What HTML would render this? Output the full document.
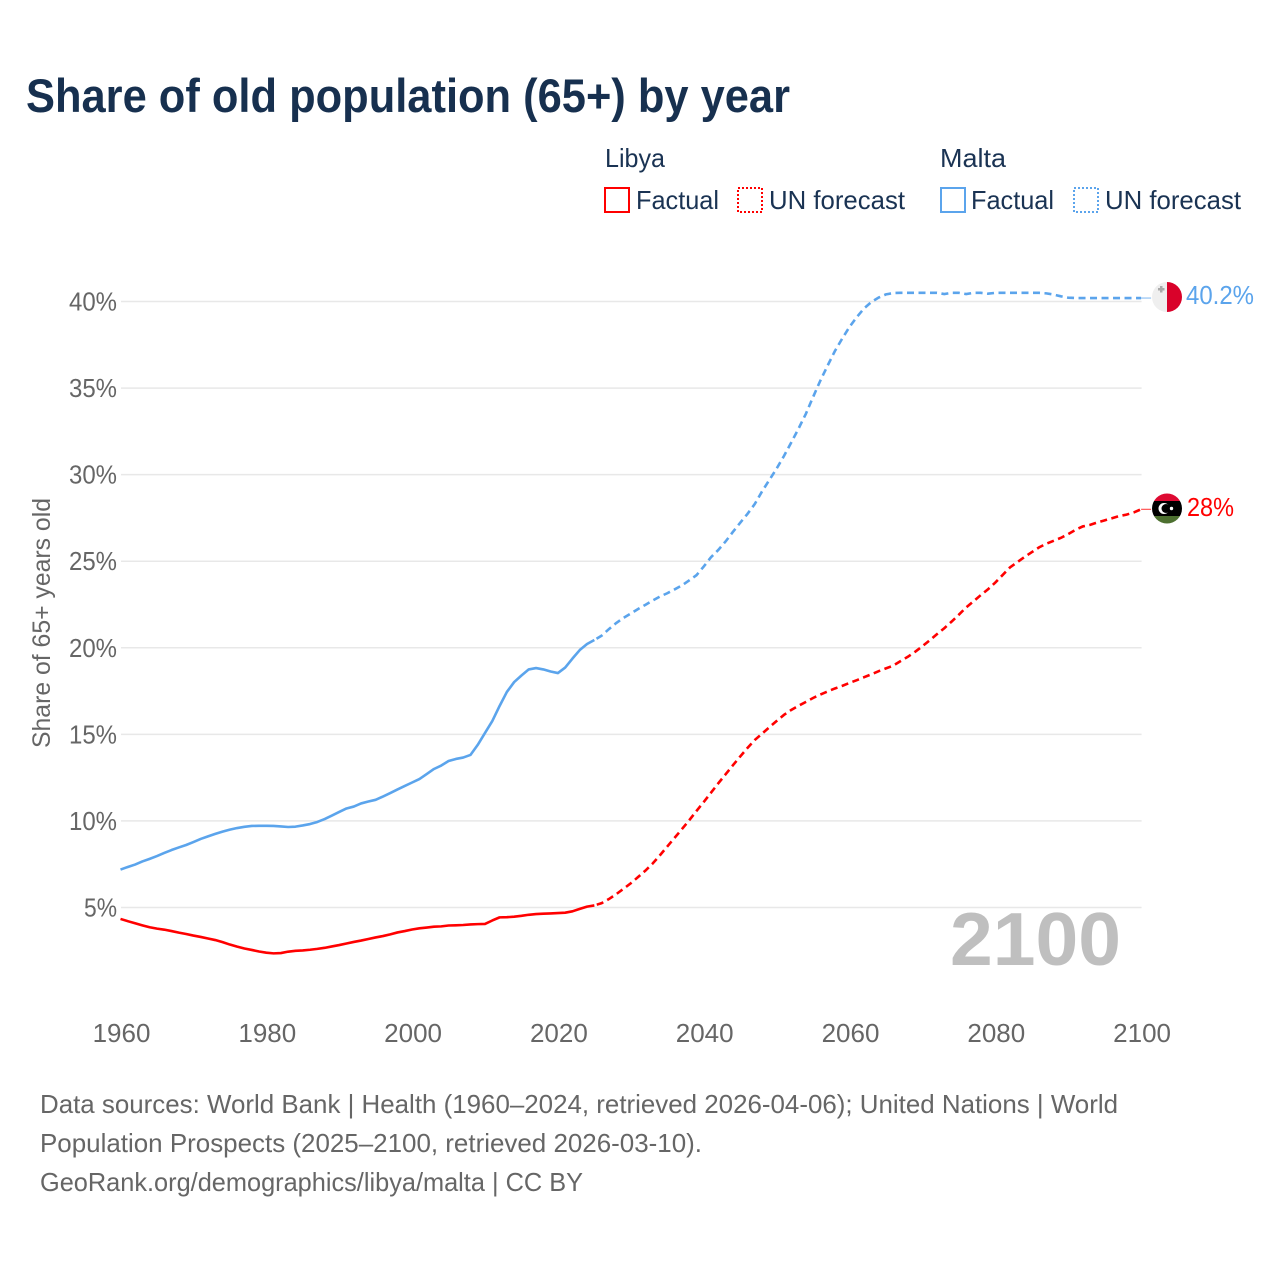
<!DOCTYPE html>
<html lang="en">
<head>
<meta charset="utf-8">
<title>Share of old population (65+) by year</title>
<style>
html,body{margin:0;padding:0;background:#fff;}
svg{display:block;font-family:"Liberation Sans",sans-serif;}
.legend-text{font-size:26px;fill:#1a3353;}
.source{font-size:26px;fill:#666;}
</style>
</head>
<body>
<svg id="chart" xmlns="http://www.w3.org/2000/svg" width="1280" height="1280" viewBox="0 0 1280 1280">
  <defs>
    <clipPath id="clip-malta"><circle cx="1167" cy="297" r="15"/></clipPath>
    <clipPath id="clip-libya"><circle cx="1167" cy="508.5" r="15"/></clipPath>
  </defs>
  <rect x="0" y="0" width="1280" height="1280" fill="#fff"/>
  <text x="26" y="112" font-size="47" font-weight="700" fill="#17304f" textLength="764" lengthAdjust="spacingAndGlyphs">Share of old population (65+) by year</text>

  <g>
    <text class="legend-text" x="605" y="167" textLength="60" lengthAdjust="spacingAndGlyphs">Libya</text>
    <rect x="605" y="188" width="24" height="24" fill="none" stroke="#ff0000" stroke-width="2"/>
    <text class="legend-text" x="636" y="209" textLength="83" lengthAdjust="spacingAndGlyphs">Factual</text>
    <rect x="738" y="188" width="24" height="24" fill="none" stroke="#ff0000" stroke-width="2" stroke-dasharray="2 2"/>
    <text class="legend-text" x="769" y="209" textLength="136" lengthAdjust="spacingAndGlyphs">UN forecast</text>

    <text class="legend-text" x="940" y="167" textLength="66" lengthAdjust="spacingAndGlyphs">Malta</text>
    <rect x="941" y="188" width="24" height="24" fill="none" stroke="#5ba4ec" stroke-width="2"/>
    <text class="legend-text" x="971" y="209" textLength="83" lengthAdjust="spacingAndGlyphs">Factual</text>
    <rect x="1074" y="188" width="24" height="24" fill="none" stroke="#5ba4ec" stroke-width="2" stroke-dasharray="2 2"/>
    <text class="legend-text" x="1105" y="209" textLength="136" lengthAdjust="spacingAndGlyphs">UN forecast</text>
  </g>

  <g id="grid"></g>
  <g id="y-ticks"></g>
  <g id="x-ticks"></g>
  <text transform="translate(50,623) rotate(-90)" text-anchor="middle" font-size="25" fill="#666" textLength="250" lengthAdjust="spacingAndGlyphs">Share of 65+ years old</text>

  <text x="950" y="965" font-size="75" font-weight="700" fill="#bfbfbf" textLength="171" lengthAdjust="spacingAndGlyphs">2100</text>

  <g id="series"></g>

  <g clip-path="url(#clip-malta)">
    <rect x="1152" y="282" width="15" height="30" fill="#efefef"/>
    <rect x="1167" y="282" width="15" height="30" fill="#d9022a"/>
    <rect x="1160" y="286" width="2.500" height="6.500" fill="#a9a9a9"/>
    <rect x="1158" y="288" width="6.500" height="2.500" fill="#a9a9a9"/>
  </g>
  <g clip-path="url(#clip-libya)">
    <rect x="1152" y="493" width="30" height="8" fill="#de0a32"/>
    <rect x="1152" y="501" width="30" height="15" fill="#000"/>
    <rect x="1152" y="516" width="30" height="8" fill="#4d7030"/>
    <circle cx="1164" cy="508.500" r="5.500" fill="#fff"/>
    <circle cx="1166" cy="508.500" r="4.500" fill="#000"/>
    <circle cx="1171.500" cy="508.500" r="1.700" fill="#fff"/>
  </g>

  <text id="label-malta" x="1186" y="304" font-size="26" fill="#5ba4ec" textLength="68" lengthAdjust="spacingAndGlyphs">40.2%</text>
  <text id="label-libya" x="1187" y="516" font-size="26" fill="#ff0000" textLength="47" lengthAdjust="spacingAndGlyphs">28%</text>

  <g>
    <text class="source" x="40" y="1113" textLength="1078" lengthAdjust="spacingAndGlyphs">Data sources: World Bank | Health (1960–2024, retrieved 2026-04-06); United Nations | World</text>
    <text class="source" x="40" y="1152" textLength="662" lengthAdjust="spacingAndGlyphs">Population Prospects (2025–2100, retrieved 2026-03-10).</text>
    <text class="source" x="40" y="1191" textLength="543" lengthAdjust="spacingAndGlyphs">GeoRank.org/demographics/libya/malta | CC BY</text>
  </g>
</svg>
<script>
const firstYear = 1960;
const forecastStartYear = 2025;
const xTickYears = [1960, 1980, 2000, 2020, 2040, 2060, 2080, 2100];
const yTickValues = [5, 10, 15, 20, 25, 30, 35, 40];
const maltaValues = [
  7.19,7.34,7.48,7.66,7.81,7.97,8.15,8.32,8.47,8.61,
  8.78,8.96,9.11,9.25,9.38,9.5,9.59,9.66,9.71,9.72,
  9.72,9.71,9.68,9.65,9.67,9.74,9.82,9.94,10.11,10.31,
  10.52,10.72,10.83,11.01,11.12,11.22,11.41,11.61,11.82,12.02,
  12.22,12.42,12.71,13.0,13.2,13.46,13.58,13.66,13.81,14.39,
  15.08,15.77,16.64,17.45,18.02,18.4,18.75,18.83,18.75,18.63,
  18.54,18.86,19.38,19.87,20.22,20.45,20.70,21.08,21.43,21.73,
  21.98,22.24,22.48,22.73,22.96,23.15,23.37,23.6,23.89,24.19,
  24.69,25.23,25.65,26.14,26.69,27.22,27.73,28.3,29.03,29.69,
  30.35,31.07,31.85,32.65,33.5,34.48,35.43,36.3,37.14,37.86,
  38.53,39.1,39.6,39.97,40.23,40.41,40.49,40.5,40.5,40.5,
  40.5,40.5,40.5,40.43,40.5,40.5,40.43,40.5,40.5,40.45,
  40.5,40.5,40.5,40.5,40.5,40.5,40.5,40.47,40.4,40.3,
  40.22,40.2,40.2,40.2,40.2,40.2,40.2,40.2,40.2,40.2,
  40.2
];
const libyaValues = [
  4.34,4.21,4.09,3.97,3.86,3.78,3.72,3.64,3.55,3.47,
  3.38,3.30,3.21,3.12,3.0,2.86,2.74,2.63,2.55,2.46,
  2.39,2.35,2.37,2.45,2.5,2.52,2.56,2.61,2.67,2.75,
  2.83,2.92,3.01,3.09,3.18,3.27,3.35,3.45,3.56,3.64,
  3.73,3.8,3.84,3.89,3.91,3.96,3.97,3.99,4.02,4.04,
  4.05,4.25,4.43,4.44,4.47,4.52,4.58,4.62,4.64,4.66,
  4.68,4.7,4.78,4.92,5.05,5.12,5.25,5.49,5.77,6.08,
  6.4,6.76,7.13,7.54,8.02,8.52,9.02,9.52,10.03,10.57,
  11.09,11.63,12.17,12.69,13.21,13.72,14.21,14.67,15.04,15.41,
  15.77,16.12,16.41,16.65,16.87,17.1,17.3,17.48,17.65,17.8,
  17.97,18.13,18.3,18.47,18.65,18.81,18.97,19.23,19.48,19.77,
  20.09,20.43,20.79,21.13,21.51,21.91,22.33,22.68,23.04,23.38,
  23.77,24.2,24.64,24.94,25.24,25.52,25.8,26.01,26.18,26.35,
  26.57,26.81,27.01,27.1,27.24,27.36,27.48,27.61,27.69,27.82,
  28.0
];

const NS = 'http://www.w3.org/2000/svg';
const xOf = yr => 120.5 + (yr - 1960) * 7.29;
const yOf = v => 994.07 - v * 17.314;
const xEnd = xOf(2100);

function mk(tag, attrs, parent, text) {
  const el = document.createElementNS(NS, tag);
  for (const k in attrs) el.setAttribute(k, attrs[k]);
  if (text !== undefined) el.textContent = text;
  parent.appendChild(el);
  return el;
}

const gridG = document.getElementById('grid');
const yTickG = document.getElementById('y-ticks');
yTickValues.forEach(v => {
  const y = yOf(v);
  const line = mk('line', {x1: 121, x2: xEnd + 0.5, y1: y, y2: y, stroke: '#e8e8e8', 'stroke-width': 1.5}, gridG);
  
  
  const label = v + '%';
  const width = label.length === 3 ? 48 : 33;
  const t = mk('text', {x: 117 - width, y: y + 9, 'font-size': 26, fill: '#666', textLength: width, lengthAdjust: 'spacingAndGlyphs'}, yTickG, label);
  
  
});

const xTickG = document.getElementById('x-ticks');
xTickYears.forEach(yr => {
  const t = mk('text', {x: xOf(yr) + 1, y: 1042, 'font-size': 26, fill: '#666', 'text-anchor': 'middle'}, xTickG, String(yr));
  
  
});

function pathFor(values, from, to) {
  let d = '';
  values.forEach((v, i) => {
    const yr = firstYear + i;
    if (yr < from || yr > to) return;
    d += (d ? 'L' : 'M') + xOf(yr).toFixed(2) + ' ' + yOf(v).toFixed(2);
  });
  return d;
}

const seriesG = document.getElementById('series');
const lastYear = firstYear + maltaValues.length - 1;

const maltaFactual = mk('path', {d: pathFor(maltaValues, firstYear, forecastStartYear), fill: 'none', stroke: '#5ba4ec', 'stroke-width': 2.6, 'stroke-linejoin': 'round'}, seriesG);



const maltaForecast = mk('path', {d: pathFor(maltaValues, forecastStartYear, lastYear), fill: 'none', stroke: '#5ba4ec', 'stroke-width': 2.6, 'stroke-dasharray': '7 4.5', 'stroke-dashoffset': 9}, seriesG);



const libyaFactual = mk('path', {d: pathFor(libyaValues, firstYear, forecastStartYear), fill: 'none', stroke: '#ff0000', 'stroke-width': 2.6, 'stroke-linejoin': 'round'}, seriesG);



const libyaForecast = mk('path', {d: pathFor(libyaValues, forecastStartYear, lastYear), fill: 'none', stroke: '#ff0000', 'stroke-width': 2.6, 'stroke-dasharray': '7 4.5', 'stroke-dashoffset': 9}, seriesG);



const maltaLast = yOf(maltaValues[maltaValues.length - 1]);
const maltaLeader = mk('line', {x1: xEnd, x2: xEnd + 10, y1: maltaLast, y2: maltaLast, stroke: '#5ba4ec', 'stroke-width': 1, 'stroke-opacity': 0.8}, seriesG);



const libyaLast = yOf(libyaValues[libyaValues.length - 1]);
const libyaLeader = mk('line', {x1: xEnd, x2: xEnd + 10, y1: libyaLast, y2: libyaLast, stroke: '#ff0000', 'stroke-width': 1, 'stroke-opacity': 0.8}, seriesG);


</script>
</body>
</html>
